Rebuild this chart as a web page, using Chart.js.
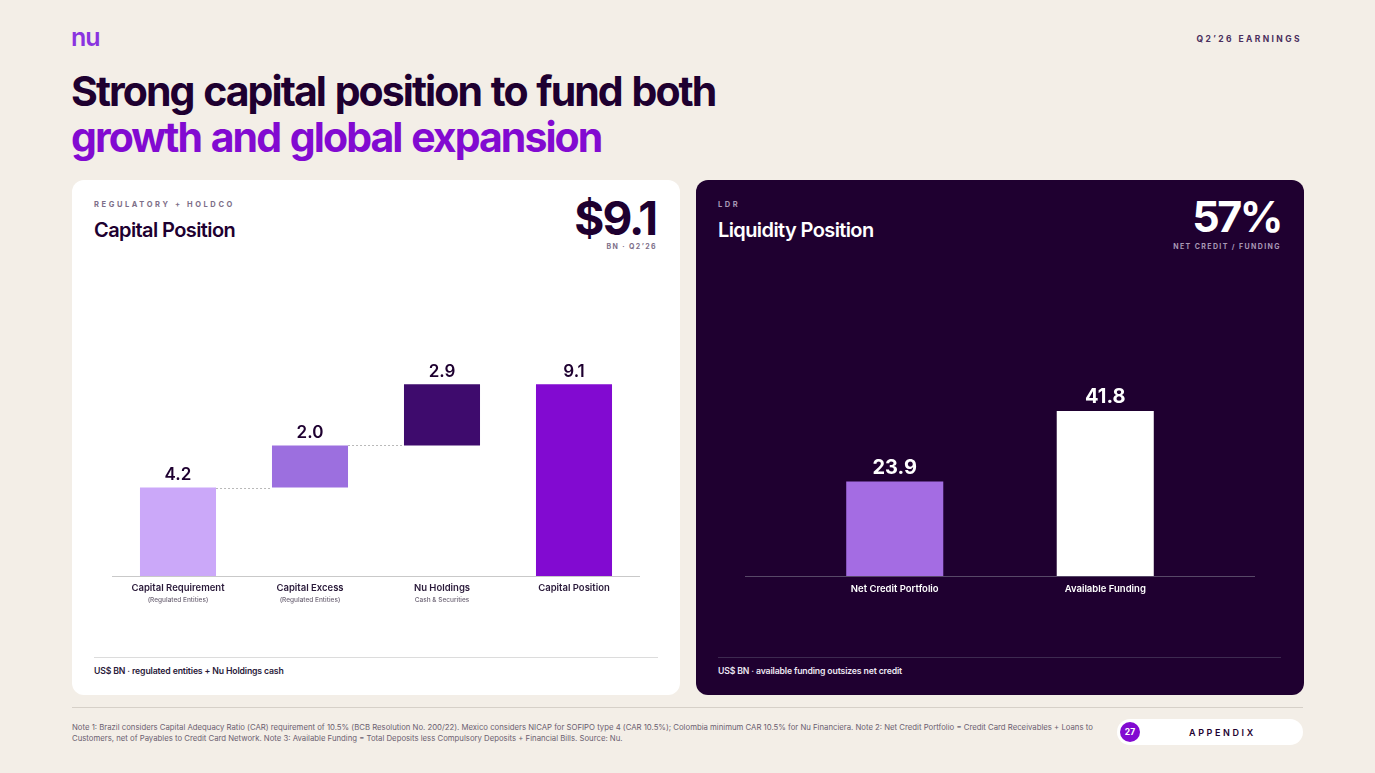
<!DOCTYPE html>
<html>
<head>
<meta charset="utf-8">
<script src="https://cdn.jsdelivr.net/npm/chart.js@4/dist/chart.umd.min.js"></script>
<style>
  body { margin: 0; width: 1375px; height: 773px; background: #f3eee7; font-family: Inter, "Noto Sans", sans-serif; position: relative; overflow: hidden; }
  .abs { position: absolute; }
  .logo { left: 71px; top: 22px; font-size: 25px; font-weight: 600; color: #8a33e0; letter-spacing: -1px; }
  .earn { right: 73px; top: 34px; font-size: 8.5px; font-weight: 700; letter-spacing: 2.4px; color: #4a2f5e; }
  .title { left: 71px; top: 68px; font-size: 41px; font-weight: 700; letter-spacing: -1.95px; word-spacing: 2px; line-height: 46px; color: #1e0030; }
  .title span { color: #820ad1; }
  .card { top: 180px; width: 608px; height: 515px; border-radius: 12px; }
  .left { left: 72px; background: #ffffff; }
  .right { left: 696px; background: #1f0030; }
  .kicker { font-size: 7.5px; font-weight: 700; letter-spacing: 2.6px; }
  .head { font-size: 20px; font-weight: 600; letter-spacing: -0.6px; }
  .big { font-size: 46px; font-weight: 700; letter-spacing: -2px; text-align: right; }
  .sub { font-size: 7px; font-weight: 700; letter-spacing: 1.4px; text-align: right; }
  .rule { height: 1px; }
  .foot { font-size: 8.7px; font-weight: 600; letter-spacing: -0.15px; }
  .chartbox { position: absolute; }
  .notes { left: 72px; top: 722px; font-size: 7.75px; line-height: 11px; color: #6b6070; letter-spacing: 0; }
  .pill { left: 1117px; top: 719px; width: 186px; height: 26px; border-radius: 13px; background: #ffffff; }
  .dot { position: absolute; left: 3px; top: 3px; width: 20px; height: 20px; border-radius: 10px; background: #820ad1; color: #fff; font-size: 8.5px; font-weight: 700; text-align: center; line-height: 20px; }
  .app { position: absolute; left: 72px; top: 8px; font-size: 9px; font-weight: 600; letter-spacing: 2.6px; color: #1e0030; }
</style>
</head>
<body>
<div class="abs logo">nu</div>
<div class="abs earn">Q2’26 EARNINGS</div>
<div class="abs title">Strong capital position to fund both<br><span>growth and global expansion</span></div>

<div class="abs card left"></div>
<div class="abs card right"></div>

<div class="abs kicker" style="left:94px;top:200px;color:#7d6e88;">REGULATORY + HOLDCO</div>
<div class="abs head" style="left:94px;top:218px;color:#1e0030;">Capital Position</div>
<div class="abs big" style="right:719px;top:190px;color:#1e0030;">$9.1</div>
<div class="abs sub" style="right:718px;top:242px;color:#7d6e88;">BN · Q2’26</div>

<div class="abs kicker" style="left:718px;top:200px;color:#a898b5;">LDR</div>
<div class="abs head" style="left:718px;top:218px;color:#ffffff;">Liquidity Position</div>
<div class="abs big" style="right:94px;top:190px;color:#ffffff;font-size:43px;letter-spacing:-2.5px;">57%</div>
<div class="abs sub" style="right:94px;top:242px;color:#a898b5;">NET CREDIT / FUNDING</div>

<div class="chartbox" style="left:112px;top:250px;width:528px;height:370px;"><canvas id="capChart"></canvas></div>
<div class="chartbox" style="left:745px;top:250px;width:510px;height:370px;"><canvas id="liqChart"></canvas></div>

<div class="abs rule" style="left:94px;top:657px;width:564px;background:#dcdcdc;"></div>
<div class="abs foot" style="left:94px;top:666px;color:#2a1a3a;">US$ BN · regulated entities + Nu Holdings cash</div>
<div class="abs rule" style="left:718px;top:657px;width:563px;background:#3d2a50;"></div>
<div class="abs foot" style="left:718px;top:666px;color:#ece6f2;">US$ BN · available funding outsizes net credit</div>

<div class="abs rule" style="left:72px;top:707px;width:1231px;background:#d6d0c8;"></div>
<div class="abs notes">Note 1: Brazil considers Capital Adequacy Ratio (CAR) requirement of 10.5% (BCB Resolution No. 200/22). Mexico considers NICAP for SOFIPO type 4 (CAR 10.5%); Colombia minimum CAR 10.5% for Nu Financiera. Note 2: Net Credit Portfolio = Credit Card Receivables + Loans to<br>Customers, net of Payables to Credit Card Network. Note 3: Available Funding = Total Deposits less Compulsory Deposits + Financial Bills. Source: Nu.</div>
<div class="abs pill"><div class="dot">27</div><div class="app">APPENDIX</div></div>

<script>
// Capital position waterfall (US$ BN)
const capCategories = ["Capital Requirement", "Capital Excess", "Nu Holdings", "Capital Position"];
const capSubLabels = ["(Regulated Entities)", "(Regulated Entities)", "Cash & Securities", ""];
const capSteps = [4.2, 2.0, 2.9];
const capTotal = 9.1;
const capColors = ["#cba8f9", "#9c6fdf", "#3e0b6d", "#820ad1"];

// Liquidity position (US$ BN)
const liqCategories = ["Net Credit Portfolio", "Available Funding"];
const liqValues = [23.9, 41.8];
const liqColors = ["#a46ce3", "#ffffff"];

// Build floating ranges for the waterfall
let running = 0;
const capRanges = capSteps.map(v => {
  const r = [running, running + v];
  running += v;
  return r;
});
capRanges.push([0, capTotal]);
const capLabels = capSteps.concat([capTotal]);

// Value labels above each bar
function valueLabels(labels, font, color, gap)
{
  return {
    id: "valueLabels",
    afterDatasetsDraw(chart) {
      const ctx = chart.ctx;
      const meta = chart.getDatasetMeta(0);
      ctx.save();
      ctx.font = font;
      ctx.fillStyle = color;
      ctx.textAlign = "center";
      ctx.textBaseline = "bottom";
      meta.data.forEach((bar, i) => {
        ctx.fillText(labels[i].toFixed(1), bar.x, bar.y - gap);
      });
      ctx.restore();
    }
  };
}

// Category labels under the baseline, with optional small second line
function categoryLabels(names, subs, color, subColor, offset)
{
  return {
    id: "categoryLabels",
    afterDraw(chart) {
      const ctx = chart.ctx;
      const xs = chart.scales.x;
      const y0 = chart.chartArea.bottom;
      ctx.save();
      ctx.textAlign = "center";
      ctx.textBaseline = "middle";
      names.forEach((name, i) => {
        const x = xs.getPixelForValue(i);
        ctx.font = "600 9.5px Inter";
        ctx.fillStyle = color;
        ctx.fillText(name, x, y0 + offset);
        if (subs && subs[i]) {
          ctx.font = "500 6.5px Inter";
          ctx.fillStyle = subColor;
          ctx.fillText(subs[i], x, y0 + offset + 12);
        }
      });
      ctx.restore();
    }
  };
}

// Baseline drawn across the full canvas width
function baseline(color)
{
  return {
    id: "baseline",
    beforeDatasetsDraw(chart) {
      const ctx = chart.ctx;
      const y = Math.round(chart.scales.y.getPixelForValue(0)) + 0.5;
      ctx.save();
      ctx.strokeStyle = color;
      ctx.lineWidth = 1;
      ctx.beginPath();
      ctx.moveTo(0, y);
      ctx.lineTo(chart.width, y);
      ctx.stroke();
      ctx.restore();
    }
  };
}

// Dotted connectors between waterfall steps
const connectors = {
  id: "connectors",
  afterDatasetsDraw(chart) {
    const ctx = chart.ctx;
    const meta = chart.getDatasetMeta(0);
    const ys = chart.scales.y;
    ctx.save();
    ctx.strokeStyle = "#b9b9b9";
    ctx.lineWidth = 1;
    ctx.setLineDash([2, 2]);
    for (let i = 0; i < capSteps.length - 1; i++) {
      const a = meta.data[i];
      const b = meta.data[i + 1];
      const y = Math.round(ys.getPixelForValue(capRanges[i][1])) + 0.5;
      ctx.beginPath();
      ctx.moveTo(a.x + a.width / 2, y);
      ctx.lineTo(b.x - b.width / 2, y);
      ctx.stroke();
    }
    ctx.restore();
  }
};

new Chart(document.getElementById("capChart"), {
  type: "bar",
  data: {
    labels: capCategories,
    datasets: [{
      data: capRanges,
      backgroundColor: capColors,
      borderWidth: 0,
      barPercentage: 0.576,
      categoryPercentage: 1
    }]
  },
  options: {
    responsive: true,
    maintainAspectRatio: false,
    animation: false,
    layout: { padding: { top: 10, bottom: 44, left: 0, right: 0 } },
    plugins: { legend: { display: false }, tooltip: { enabled: false } },
    scales: {
      x: { display: false },
      y: { display: false, min: 0, max: 15 }
    }
  },
  plugins: [baseline("#c9c9c9"), connectors, valueLabels(capLabels, "600 17px Inter", "#1e0030", 4),
            categoryLabels(capCategories, capSubLabels, "#2a1a3a", "#6d6475", 12)]
});

new Chart(document.getElementById("liqChart"), {
  type: "bar",
  data: {
    labels: liqCategories,
    datasets: [{
      data: liqValues,
      backgroundColor: liqColors,
      borderWidth: 0,
      barPercentage: 0.461,
      categoryPercentage: 1
    }]
  },
  options: {
    responsive: true,
    maintainAspectRatio: false,
    animation: false,
    layout: { padding: { top: 10, bottom: 44, left: 44.5, right: 44.5 } },
    plugins: { legend: { display: false }, tooltip: { enabled: false } },
    scales: {
      x: { display: false },
      y: { display: false, min: 0, max: 80 }
    }
  },
  plugins: [baseline("#574867"), valueLabels(liqValues, "700 20px Inter", "#ffffff", 4),
            categoryLabels(liqCategories, null, "#ffffff", "#ffffff", 13)]
});
</script>
</body>
</html>
